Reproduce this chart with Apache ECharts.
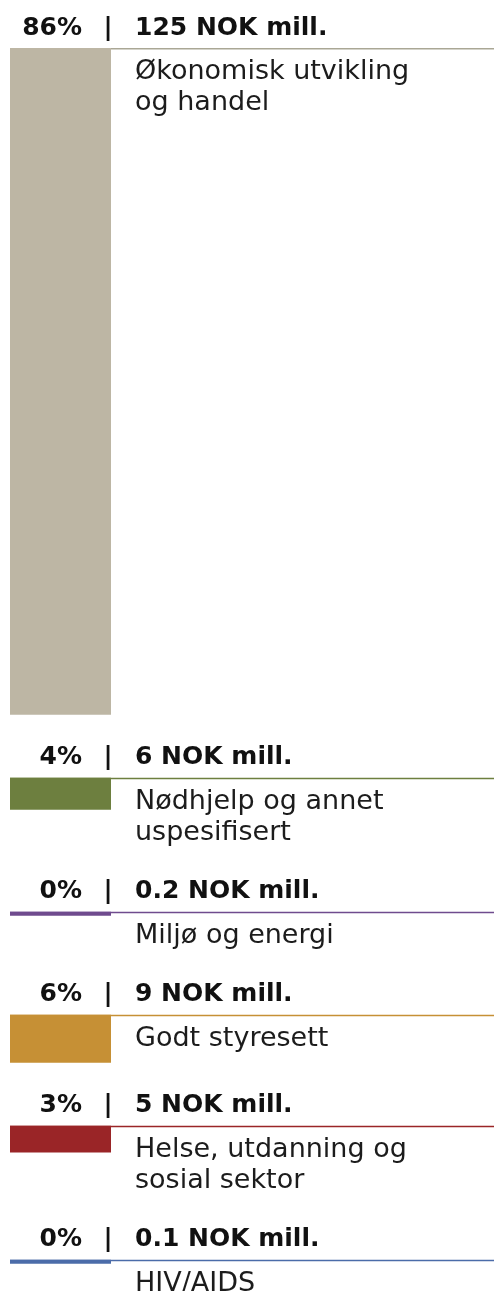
<!DOCTYPE html>
<html>
<head>
<meta charset="utf-8">
<script src="https://cdn.jsdelivr.net/npm/echarts@6/dist/echarts.min.js"></script>
<style>
  html, body { margin: 0; padding: 0; background: #ffffff; }
  #chart { width: 494px; height: 1291px; }
</style>
</head>
<body>
<div id="chart"></div>
<script>
// ---- Data ----
const categories = [
  'Økonomisk utvikling og handel',
  'Nødhjelp og annet uspesifisert',
  'Miljø og energi',
  'Godt styresett',
  'Helse, utdanning og sosial sektor',
  'HIV/AIDS'
];
const categoryLines = [
  ['Økonomisk utvikling', 'og handel'],
  ['Nødhjelp og annet', 'uspesifisert'],
  ['Miljø og energi'],
  ['Godt styresett'],
  ['Helse, utdanning og', 'sosial sektor'],
  ['HIV/AIDS']
];
const values = [125, 6, 0.2, 9, 5, 0.1];          // NOK mill.
const percents = ['86%', '4%', '0%', '6%', '3%', '0%'];
const colors = ['#bdb6a4', '#6d7f3f', '#6f4b8e', '#c69035', '#9a2527', '#4b6ca9'];
const ruleColors = ['#aaa795', '#6d7f3f', '#6f4b8e', '#c69035', '#9a2527', '#4b6ca9'];

// ---- Layout constants (text metrics) ----
const MIN_BAR = 4;
const LINE_H = 31;
const TEXT_FIRST = 24;   // middle of first label line below rule
const TEXT_BELOW = 16;
const GAP = 63;
const HEADER_OFF = 20;

const chart = echarts.init(document.getElementById('chart'), null, { renderer: 'canvas' });

function barHeight(api, v) {
  return Math.max(api.size([0, v])[1], MIN_BAR);
}
function blockHeight(api, j) {
  const txt = TEXT_FIRST + (categoryLines[j].length - 1) * LINE_H + TEXT_BELOW;
  return Math.max(barHeight(api, values[j]), txt);
}

function renderItem(params, api) {
  const i = params.dataIndex;
  const cs = params.coordSys;
  let y = cs.y;
  for (let j = 0; j < i; j++) y += blockHeight(api, j) + GAP;
  const h = barHeight(api, api.value(1));
  const color = colors[i];
  const labelX = cs.x + cs.width + 24;
  const headFont = 'bold 25px "DejaVu Sans"';
  const children = [
    {
      type: 'line',
      shape: { x1: cs.x, y1: y + 0.75, x2: api.getWidth(), y2: y + 0.75 },
      style: { stroke: ruleColors[i], lineWidth: 1.5 }
    },
    {
      type: 'rect',
      shape: { x: cs.x, y: y, width: cs.width, height: h },
      style: { fill: color }
    },
    {
      type: 'text',
      style: {
        text: percents[i], x: cs.x + 72, y: y - HEADER_OFF,
        font: headFont, fill: '#111111',
        align: 'right', verticalAlign: 'middle'
      }
    },
    {
      type: 'text',
      style: {
        text: '|', x: cs.x + 98, y: y - HEADER_OFF,
        font: headFont, fill: '#111111',
        align: 'center', verticalAlign: 'middle'
      }
    },
    {
      type: 'text',
      style: {
        text: values[i] + ' NOK mill.', x: labelX, y: y - HEADER_OFF,
        font: headFont, fill: '#111111',
        align: 'left', verticalAlign: 'middle'
      }
    }
  ];
  categoryLines[i].forEach(function (line, k) {
    children.push({
      type: 'text',
      style: {
        text: line, x: labelX, y: y + TEXT_FIRST + k * LINE_H,
        font: '27px "DejaVu Sans"', fill: '#1c1c1c',
        align: 'left', verticalAlign: 'middle'
      }
    });
  });
  return { type: 'group', children: children };
}

chart.setOption({
  backgroundColor: '#ffffff',
  animation: false,
  grid: { left: 10, width: 101, top: 48, bottom: 0 },
  xAxis: { type: 'value', min: 0, max: 1, show: false },
  yAxis: { type: 'value', inverse: true, min: 0, max: 233, show: false },
  series: [{
    type: 'custom',
    name: 'NOK mill.',
    renderItem: renderItem,
    clip: false,
    data: values.map(function (v, i) { return { name: categories[i], value: [0, v] }; })
  }]
});
</script>
</body>
</html>
